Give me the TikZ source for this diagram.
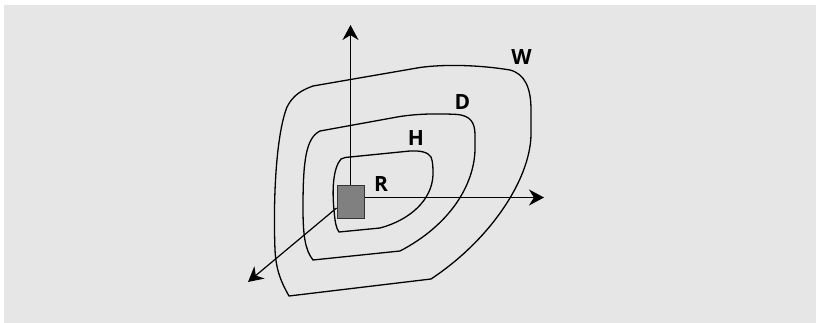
\documentclass[tikz,border=0pt]{standalone}
\usepackage{fontspec}
\setmainfont{Open Sans}
\usetikzlibrary{arrows.meta}
\definecolor{Back_gray}{RGB}{230, 230, 230}
\definecolor{Base_gray}{RGB}{128, 128, 128}
\tikzset{
    zone/.style={line width=1.3pt},
    axis arrow/.style={line width=1.2pt, -{Stealth[length=15pt, width=16pt]}},
    base box/.style={draw=black!80, line width=0.9pt, fill=Base_gray, minimum width=27pt, minimum height=33pt, inner sep=0pt},
    zone label/.style={font=\fontsize{21}{25}\selectfont\bfseries, inner sep=0pt}
}

\begin{document}
\begin{tikzpicture}[x=1pt, y=-1pt]
    %% Background
    \useasboundingbox (0,0) rectangle (816,323);
    \fill[Back_gray] (4,5) rectangle (816,323);

    %% Zones
    % W
    \draw[zone] (313,86) -- (420,67.5)
    .. controls (445,64) and (480,65) .. (510,70)
    .. controls (525,74) and (531,88) .. (531,110)
    -- (531,135)
    .. controls (530,180) and (490,240) .. (431,279)
    -- (289,296)
    .. controls (281,282) and (276,270) .. (275,250)
    .. controls (273,200) and (276,135) .. (287,107)
    .. controls (293,95) and (302,90) .. cycle;
    % D
    \draw[zone] (320,131) -- (400,116.5)
    .. controls (420,113.5) and (440,113.5) .. (458,114.5)
    .. controls (470,116) and (475,122) .. (475,135)
    -- (475,150)
    .. controls (474,185) and (450,225) .. (400,251)
    -- (313,260)
    .. controls (305,250) and (303,235) .. (303,208)
    .. controls (303,160) and (306,138) .. cycle;
    % H
    \draw[zone] (350,157) -- (410,151)
    .. controls (420,150.5) and (428,152) .. (431,157)
    .. controls (433,162) and (433,168) .. (433,175)
    .. controls (432,200) and (410,220) .. (380,228)
    -- (339,232)
    .. controls (336,228) and (335,222) .. (334,210)
    .. controls (332,190) and (333,168) .. (341,159)
    .. controls (344,157.5) and (347,157) .. cycle;

    %% Axes
    \node[base box] (base) at (350.5,202) {};
    \coordinate (up end) at (350.5,25);
    \coordinate (right end) at (544,197.5);
    \coordinate (down end) at (248,282);
    \draw[axis arrow] (base.north) -- (up end);
    \draw[axis arrow] (base.east |- right end) -- (right end);
    \draw[axis arrow] ([yshift=-6pt]base.west) -- (down end);
    \node[base box] at (base) {};

    %% Labels
    \node[zone label] (W) at (521.5,57.5) {W};
    \node[zone label] (D) at (462.5,102) {D};
    \node[zone label] (H) at (415.8,138) {H};
    \node[zone label] (R) at (381,184) {R};
\end{tikzpicture}
\end{document}
